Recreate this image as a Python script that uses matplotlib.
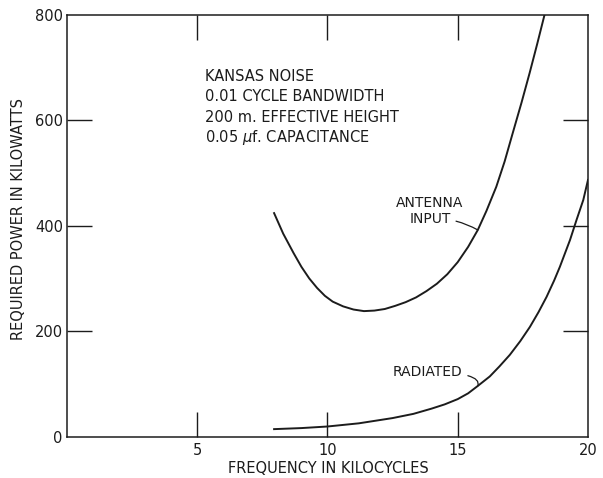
import matplotlib
matplotlib.use("Agg")
import matplotlib.pyplot as plt

# Required power vs frequency (kilocycles, kilowatts)
antenna_freq = [7.95, 8.3, 8.7, 9.0, 9.3, 9.6, 9.9, 10.2, 10.6, 11.0, 11.4, 11.8,
                12.2, 12.6, 13.0, 13.4, 13.8, 14.2, 14.6, 15.0, 15.4, 15.77, 16.1,
                16.48, 16.8, 17.1, 17.45, 17.76, 18.05, 18.33]
antenna_kw = [424, 385, 348, 322, 300, 282, 267, 256, 247, 241, 238, 239,
              242, 248, 255, 264, 276, 290, 308, 331, 360, 392, 428,
              474, 522, 574, 634, 690, 745, 800]

radiated_freq = [7.95, 9.0, 10.0, 11.2, 12.5, 13.3, 14.0, 14.5, 15.0, 15.4, 15.77,
                 16.23, 16.6, 17.0, 17.4, 17.77, 18.1, 18.41, 18.7, 18.92, 19.31,
                 19.56, 19.82, 20.0]
radiated_kw = [14, 16, 19, 25, 35, 43, 53, 61, 71, 82, 96,
               114, 133, 155, 181, 208, 236, 265, 296, 322, 373,
               411, 449, 487]

x_ticks = [5, 10, 15, 20]
y_ticks = [0, 200, 400, 600, 800]
notes = ["KANSAS NOISE", "0.01 CYCLE BANDWIDTH",
         "200 m. EFFECTIVE HEIGHT", r"0.05 $\mu$f. CAPACITANCE"]

ink = "#1c1c1c"
plt.rcParams["font.family"] = "DejaVu Sans"

fig = plt.figure(figsize=(6.03, 4.78), dpi=100)
ax = fig.add_axes([0.1111, 0.0868, 0.864, 0.8818])

ax.plot(antenna_freq, antenna_kw, color=ink, lw=1.4, solid_joinstyle="round")
ax.plot(radiated_freq, radiated_kw, color=ink, lw=1.4, solid_joinstyle="round")

ax.set_xlim(0, 20)
ax.set_ylim(0, 800)
ax.set_xticks(x_ticks)
ax.set_yticks(y_ticks)
ax.tick_params(direction="in", length=18, width=1.0, color=ink,
               top=True, right=True, labelsize=10.5, labelcolor=ink)
ax.tick_params(axis="x", pad=5)
ax.tick_params(axis="y", pad=3)

# ticks that sit on the frame itself are not drawn
for t in [ax.xaxis.get_major_ticks()[-1], ax.yaxis.get_major_ticks()[0],
          ax.yaxis.get_major_ticks()[-1]]:
    t.tick1line.set_visible(False)
    t.tick2line.set_visible(False)

for s in ax.spines.values():
    s.set_color(ink)
    s.set_linewidth(1.1)

ax.set_xlabel("FREQUENCY IN KILOCYCLES", fontsize=10.5, color=ink)
ax.set_ylabel("REQUIRED POWER IN KILOWATTS", fontsize=10.5, color=ink)
ax.xaxis.set_label_coords(0.501, -0.058)
ax.yaxis.set_label_coords(-0.079, 0.516)

for i, line in enumerate(notes):
    ax.text(0.265, 0.853 - i * 0.0475, line, transform=ax.transAxes,
            fontsize=10.5, color=ink, va="center", ha="left")

# curve labels with small leader strokes
ax.text(13.93, 443, "ANTENNA", fontsize=10, color=ink, ha="center", va="center")
i_ant = antenna_freq.index(15.77)
ax.annotate("INPUT", xy=(antenna_freq[i_ant], antenna_kw[i_ant]),
            xytext=(13.93, 413), fontsize=10, color=ink, ha="center", va="center",
            arrowprops=dict(arrowstyle="-", color=ink, lw=0.9,
                            connectionstyle="arc3,rad=-0.15", shrinkA=2, shrinkB=0))
i_rad = radiated_freq.index(15.77)
ax.annotate("RADIATED", xy=(radiated_freq[i_rad], radiated_kw[i_rad]),
            xytext=(13.84, 122), fontsize=10, color=ink, ha="center", va="center",
            arrowprops=dict(arrowstyle="-", color=ink, lw=0.9,
                            connectionstyle="angle3,angleA=0,angleB=70",
                            shrinkA=2, shrinkB=0))

fig.savefig("out.png", dpi=100)
